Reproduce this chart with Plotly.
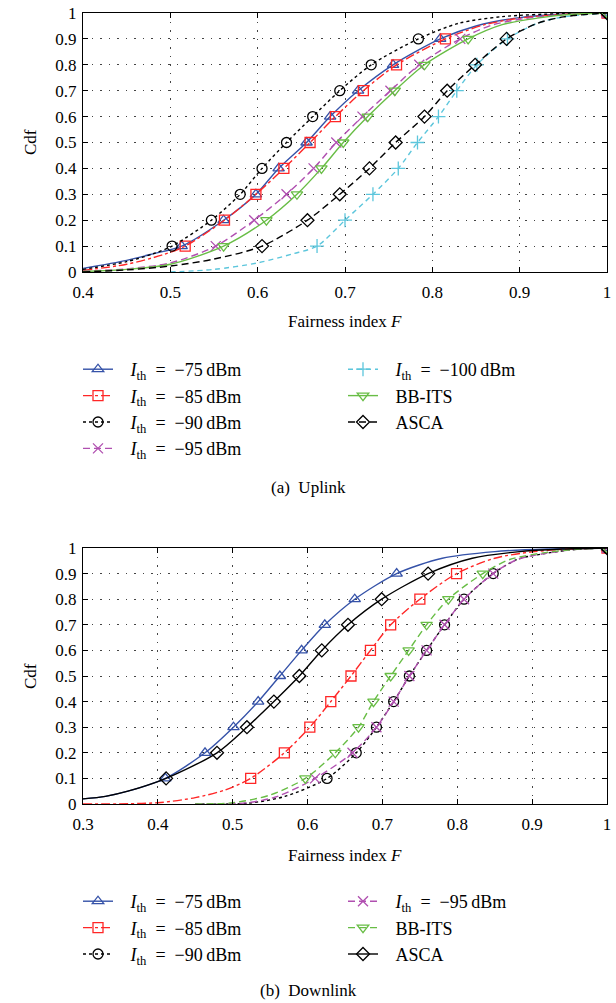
import plotly.graph_objects as go

W, H = 616, 1003
FONT = "Liberation Serif"

# CDF levels where markers are drawn
levels = [0.1, 0.2, 0.3, 0.4, 0.5, 0.6, 0.7, 0.8, 0.9]

# ---------------- Uplink (a) ----------------
up_m75 = [0.513, 0.561, 0.598, 0.624, 0.656, 0.683, 0.715, 0.755, 0.809]
up_m85 = [0.517, 0.562, 0.598, 0.630, 0.660, 0.689, 0.721, 0.759, 0.815]
up_m90 = [0.502, 0.547, 0.580, 0.605, 0.633, 0.663, 0.694, 0.730, 0.784]
up_m95 = [0.552, 0.596, 0.633, 0.664, 0.690, 0.720, 0.752, 0.785, 0.832]
up_m100 = [0.668, 0.700, 0.732, 0.761, 0.783, 0.807, 0.828, 0.851, 0.886]
up_bbits = [0.561, 0.610, 0.645, 0.673, 0.698, 0.726, 0.757, 0.791, 0.841]
up_asca = [0.605, 0.657, 0.694, 0.728, 0.758, 0.791, 0.817, 0.849, 0.885]

# tails (F, cdf) below first and above last marker
up_m75_lo = [(0.40, 0.014), (0.45, 0.045), (0.48, 0.07)]
up_m75_hi = [(0.85, 0.95), (0.90, 0.982), (0.95, 0.996), (1.0, 1.0)]
up_m85_lo = [(0.40, 0.006), (0.45, 0.03), (0.49, 0.065)]
up_m85_hi = [(0.86, 0.955), (0.90, 0.98), (0.95, 0.995), (1.0, 1.0)]
up_m90_lo = [(0.40, 0.01), (0.45, 0.04), (0.48, 0.07)]
up_m90_hi = [(0.83, 0.96), (0.88, 0.986), (0.95, 0.998), (1.0, 1.0)]
up_m95_lo = [(0.40, 0.003), (0.45, 0.012), (0.50, 0.035)]
up_m95_hi = [(0.87, 0.955), (0.92, 0.985), (0.96, 0.996), (1.0, 1.0)]
up_m100_lo = [(0.50, 0.0), (0.55, 0.01), (0.60, 0.035), (0.64, 0.07)]
up_m100_hi = [(0.92, 0.96), (0.95, 0.985), (1.0, 1.0)]
up_bbits_lo = [(0.40, 0.002), (0.45, 0.01), (0.50, 0.03)]
up_bbits_hi = [(0.88, 0.955), (0.92, 0.98), (0.96, 0.995), (1.0, 1.0)]
up_asca_lo = [(0.40, 0.0), (0.45, 0.008), (0.50, 0.023), (0.55, 0.05)]
up_asca_hi = [(0.92, 0.96), (0.95, 0.985), (1.0, 1.0)]

# ---------------- Downlink (b) ----------------
dn_m75 = [0.410, 0.463, 0.501, 0.534, 0.563, 0.592, 0.623, 0.663, 0.719]
dn_m85 = [0.524, 0.569, 0.603, 0.631, 0.658, 0.684, 0.711, 0.750, 0.799]
dn_m90 = [0.626, 0.665, 0.692, 0.715, 0.736, 0.759, 0.783, 0.809, 0.848]
dn_m95 = [0.610, 0.660, 0.692, 0.715, 0.736, 0.759, 0.783, 0.809, 0.848]
dn_bbits = [0.597, 0.637, 0.668, 0.688, 0.711, 0.735, 0.759, 0.788, 0.834]
dn_asca = [0.411, 0.479, 0.519, 0.555, 0.589, 0.619, 0.654, 0.699, 0.761]

dn_m75_lo = [(0.30, 0.02), (0.33, 0.03), (0.36, 0.05)]
dn_m75_hi = [(0.78, 0.96), (0.85, 0.986), (0.92, 0.996), (1.0, 1.0)]
dn_m85_lo = [(0.30, 0.0), (0.40, 0.005), (0.45, 0.025), (0.49, 0.055)]
dn_m85_hi = [(0.85, 0.96), (0.90, 0.985), (0.95, 0.996), (1.0, 1.0)]
dn_m90_lo = [(0.45, 0.0), (0.52, 0.003), (0.57, 0.03)]
dn_m90_hi = [(0.88, 0.955), (0.92, 0.98), (0.96, 0.995), (1.0, 1.0)]
dn_m95_lo = [(0.45, 0.0), (0.52, 0.005), (0.56, 0.03)]
dn_m95_hi = [(0.88, 0.955), (0.92, 0.98), (0.96, 0.995), (1.0, 1.0)]
dn_bbits_lo = [(0.45, 0.0), (0.50, 0.005), (0.55, 0.035)]
dn_bbits_hi = [(0.87, 0.955), (0.92, 0.983), (0.96, 0.995), (1.0, 1.0)]
dn_asca_lo = [(0.30, 0.02), (0.33, 0.03), (0.36, 0.05)]
dn_asca_hi = [(0.82, 0.96), (0.88, 0.985), (0.94, 0.996), (1.0, 1.0)]

x_ticks_up = [0.4, 0.5, 0.6, 0.7, 0.8, 0.9, 1.0]
x_ticktext_up = ["0.4", "0.5", "0.6", "0.7", "0.8", "0.9", "1"]
x_ticks_dn = [0.3, 0.4, 0.5, 0.6, 0.7, 0.8, 0.9, 1.0]
x_ticktext_dn = ["0.3", "0.4", "0.5", "0.6", "0.7", "0.8", "0.9", "1"]
y_ticks = [0, 0.1, 0.2, 0.3, 0.4, 0.5, 0.6, 0.7, 0.8, 0.9, 1.0]
y_ticktext = ["0", "0.1", "0.2", "0.3", "0.4", "0.5", "0.6", "0.7", "0.8", "0.9", "1"]

BLUE = "#3552a8"
RED = "#ff2626"
BLACK = "#000000"
MAGENTA = "#b04fb0"
CYAN = "#5cc6dc"
GREEN = "#68bd45"

PAD = "\u2002\u2009"


def lab(v):
    return PAD + "<i>I</i><sub>th</sub>\u2002=\u2002\u2212" + v.lstrip("-") + "\u2009dBm"


fig = go.Figure()


def add_series(marks, lo, hi, color, dash, symbol, xa, ya):
    lx = [p[0] for p in lo] + list(marks) + [p[0] for p in hi]
    ly = [p[1] for p in lo] + list(levels) + [p[1] for p in hi]
    fig.add_trace(go.Scatter(x=lx, y=ly, mode="lines", xaxis=xa, yaxis=ya,
                             line=dict(color=color, width=1.4, dash=dash, shape="spline", smoothing=0.8),
                             showlegend=False, hoverinfo="skip"))
    fig.add_trace(go.Scatter(x=list(marks) + [1.0], y=list(levels) + [1.0], mode="markers",
                             xaxis=xa, yaxis=ya, showlegend=False,
                             marker=dict(symbol=symbol, size=10, color=color, line=dict(width=1.3, color=color))))


def add_legend(name, color, dash, symbol, legend, xa, ya):
    fig.add_trace(go.Scatter(x=[None], y=[None], mode="lines+markers", name=name, legend=legend,
                             xaxis=xa, yaxis=ya,
                             line=dict(color=color, width=1.4, dash=dash),
                             marker=dict(symbol=symbol, size=10, color=color, line=dict(width=1.3, color=color))))


up_specs = [
    (lab("-75"), up_m75, up_m75_lo, up_m75_hi, BLUE, "solid", "triangle-up-open"),
    (lab("-85"), up_m85, up_m85_lo, up_m85_hi, RED, "dashdot", "square-open"),
    (lab("-90"), up_m90, up_m90_lo, up_m90_hi, BLACK, "dot", "circle-open"),
    (lab("-95"), up_m95, up_m95_lo, up_m95_hi, MAGENTA, "7px,4px", "x-thin-open"),
    (lab("-100"), up_m100, up_m100_lo, up_m100_hi, CYAN, "5px,4px", "cross-thin-open"),
    (PAD + "BB-ITS", up_bbits, up_bbits_lo, up_bbits_hi, GREEN, "solid", "triangle-down-open"),
    (PAD + "ASCA", up_asca, up_asca_lo, up_asca_hi, BLACK, "7px,4px", "diamond-open"),
]
dn_specs = [
    (lab("-75"), dn_m75, dn_m75_lo, dn_m75_hi, BLUE, "solid", "triangle-up-open"),
    (lab("-85"), dn_m85, dn_m85_lo, dn_m85_hi, RED, "dashdot", "square-open"),
    (lab("-90"), dn_m90, dn_m90_lo, dn_m90_hi, BLACK, "dot", "circle-open"),
    (lab("-95"), dn_m95, dn_m95_lo, dn_m95_hi, MAGENTA, "7px,4px", "x-thin-open"),
    (PAD + "BB-ITS", dn_bbits, dn_bbits_lo, dn_bbits_hi, GREEN, "7px,4px", "triangle-down-open"),
    (PAD + "ASCA", dn_asca, dn_asca_lo, dn_asca_hi, BLACK, "solid", "diamond-open"),
]

for s in up_specs:
    add_series(s[1], s[2], s[3], s[4], s[5], s[6], "x", "y")
for s in dn_specs:
    add_series(s[1], s[2], s[3], s[4], s[5], s[6], "x2", "y2")

# legends: two columns, row-major order
up_order = [0, 4, 1, 5, 2, 6, 3]
for i in up_order:
    s = up_specs[i]
    add_legend(s[0], s[4], s[5], s[6], "legend", "x", "y")
dn_order = [0, 3, 1, 4, 2, 5]
for i in dn_order:
    s = dn_specs[i]
    add_legend(s[0], s[4], s[5], s[6], "legend2", "x2", "y2")

axis_common = dict(showline=True, linecolor="black", linewidth=1.2, mirror="ticks",
                   ticks="inside", ticklen=5, tickcolor="black",
                   showgrid=True, gridcolor="#444444", gridwidth=1, griddash="1.5px,7px",
                   zeroline=False, tickfont=dict(family=FONT, size=17, color="black"))

fig.update_layout(
    width=W, height=H, margin=dict(l=0, r=0, t=0, b=0, autoexpand=False),
    paper_bgcolor="white", plot_bgcolor="white",
    font=dict(family=FONT, size=17, color="black"),
    xaxis=dict(domain=[83 / W, 607 / W], anchor="y", range=[0.4, 1.0], ticklabelstandoff=4,
               tickvals=x_ticks_up, ticktext=x_ticktext_up, **axis_common),
    yaxis=dict(domain=[1 - 272 / H, 1 - 13 / H], anchor="x", range=[0, 1], ticklabelstandoff=2,
               tickvals=y_ticks, ticktext=y_ticktext, **axis_common),
    xaxis2=dict(domain=[83 / W, 607 / W], anchor="y2", range=[0.3, 1.0], ticklabelstandoff=4,
                tickvals=x_ticks_dn, ticktext=x_ticktext_dn, **axis_common),
    yaxis2=dict(domain=[1 - 804 / H, 1 - 548 / H], anchor="x2", range=[0, 1], ticklabelstandoff=2,
                tickvals=y_ticks, ticktext=y_ticktext, **axis_common),
    legend=dict(orientation="h", x=78 / W, xanchor="left", y=1 - 351 / H, yanchor="top",
                entrywidth=220, entrywidthmode="pixels", bgcolor="rgba(0,0,0,0)",
                font=dict(family=FONT, size=18, color="black"), traceorder="normal"),
    legend2=dict(orientation="h", x=78 / W, xanchor="left", y=1 - 883 / H, yanchor="top",
                 entrywidth=220, entrywidthmode="pixels", bgcolor="rgba(0,0,0,0)",
                 font=dict(family=FONT, size=18, color="black"), traceorder="normal"),
)

ann = [
    dict(text="Cdf", x=30 / W, y=1 - 142 / H, textangle=-90),
    dict(text="Cdf", x=30 / W, y=1 - 676 / H, textangle=-90),
    dict(text="Fairness index <i>F</i>", x=345 / W, y=1 - 322 / H),
    dict(text="Fairness index <i>F</i>", x=345 / W, y=1 - 855 / H),
    dict(text="(a)\u2002Uplink", x=308 / W, y=1 - 488 / H),
    dict(text="(b)\u2002Downlink", x=308 / W, y=1 - 990 / H),
]
for a in ann:
    fig.add_annotation(xref="paper", yref="paper", showarrow=False, xanchor="center", yanchor="middle",
                       font=dict(family=FONT, size=17, color="black"), **a)

fig.write_html("out.html")
